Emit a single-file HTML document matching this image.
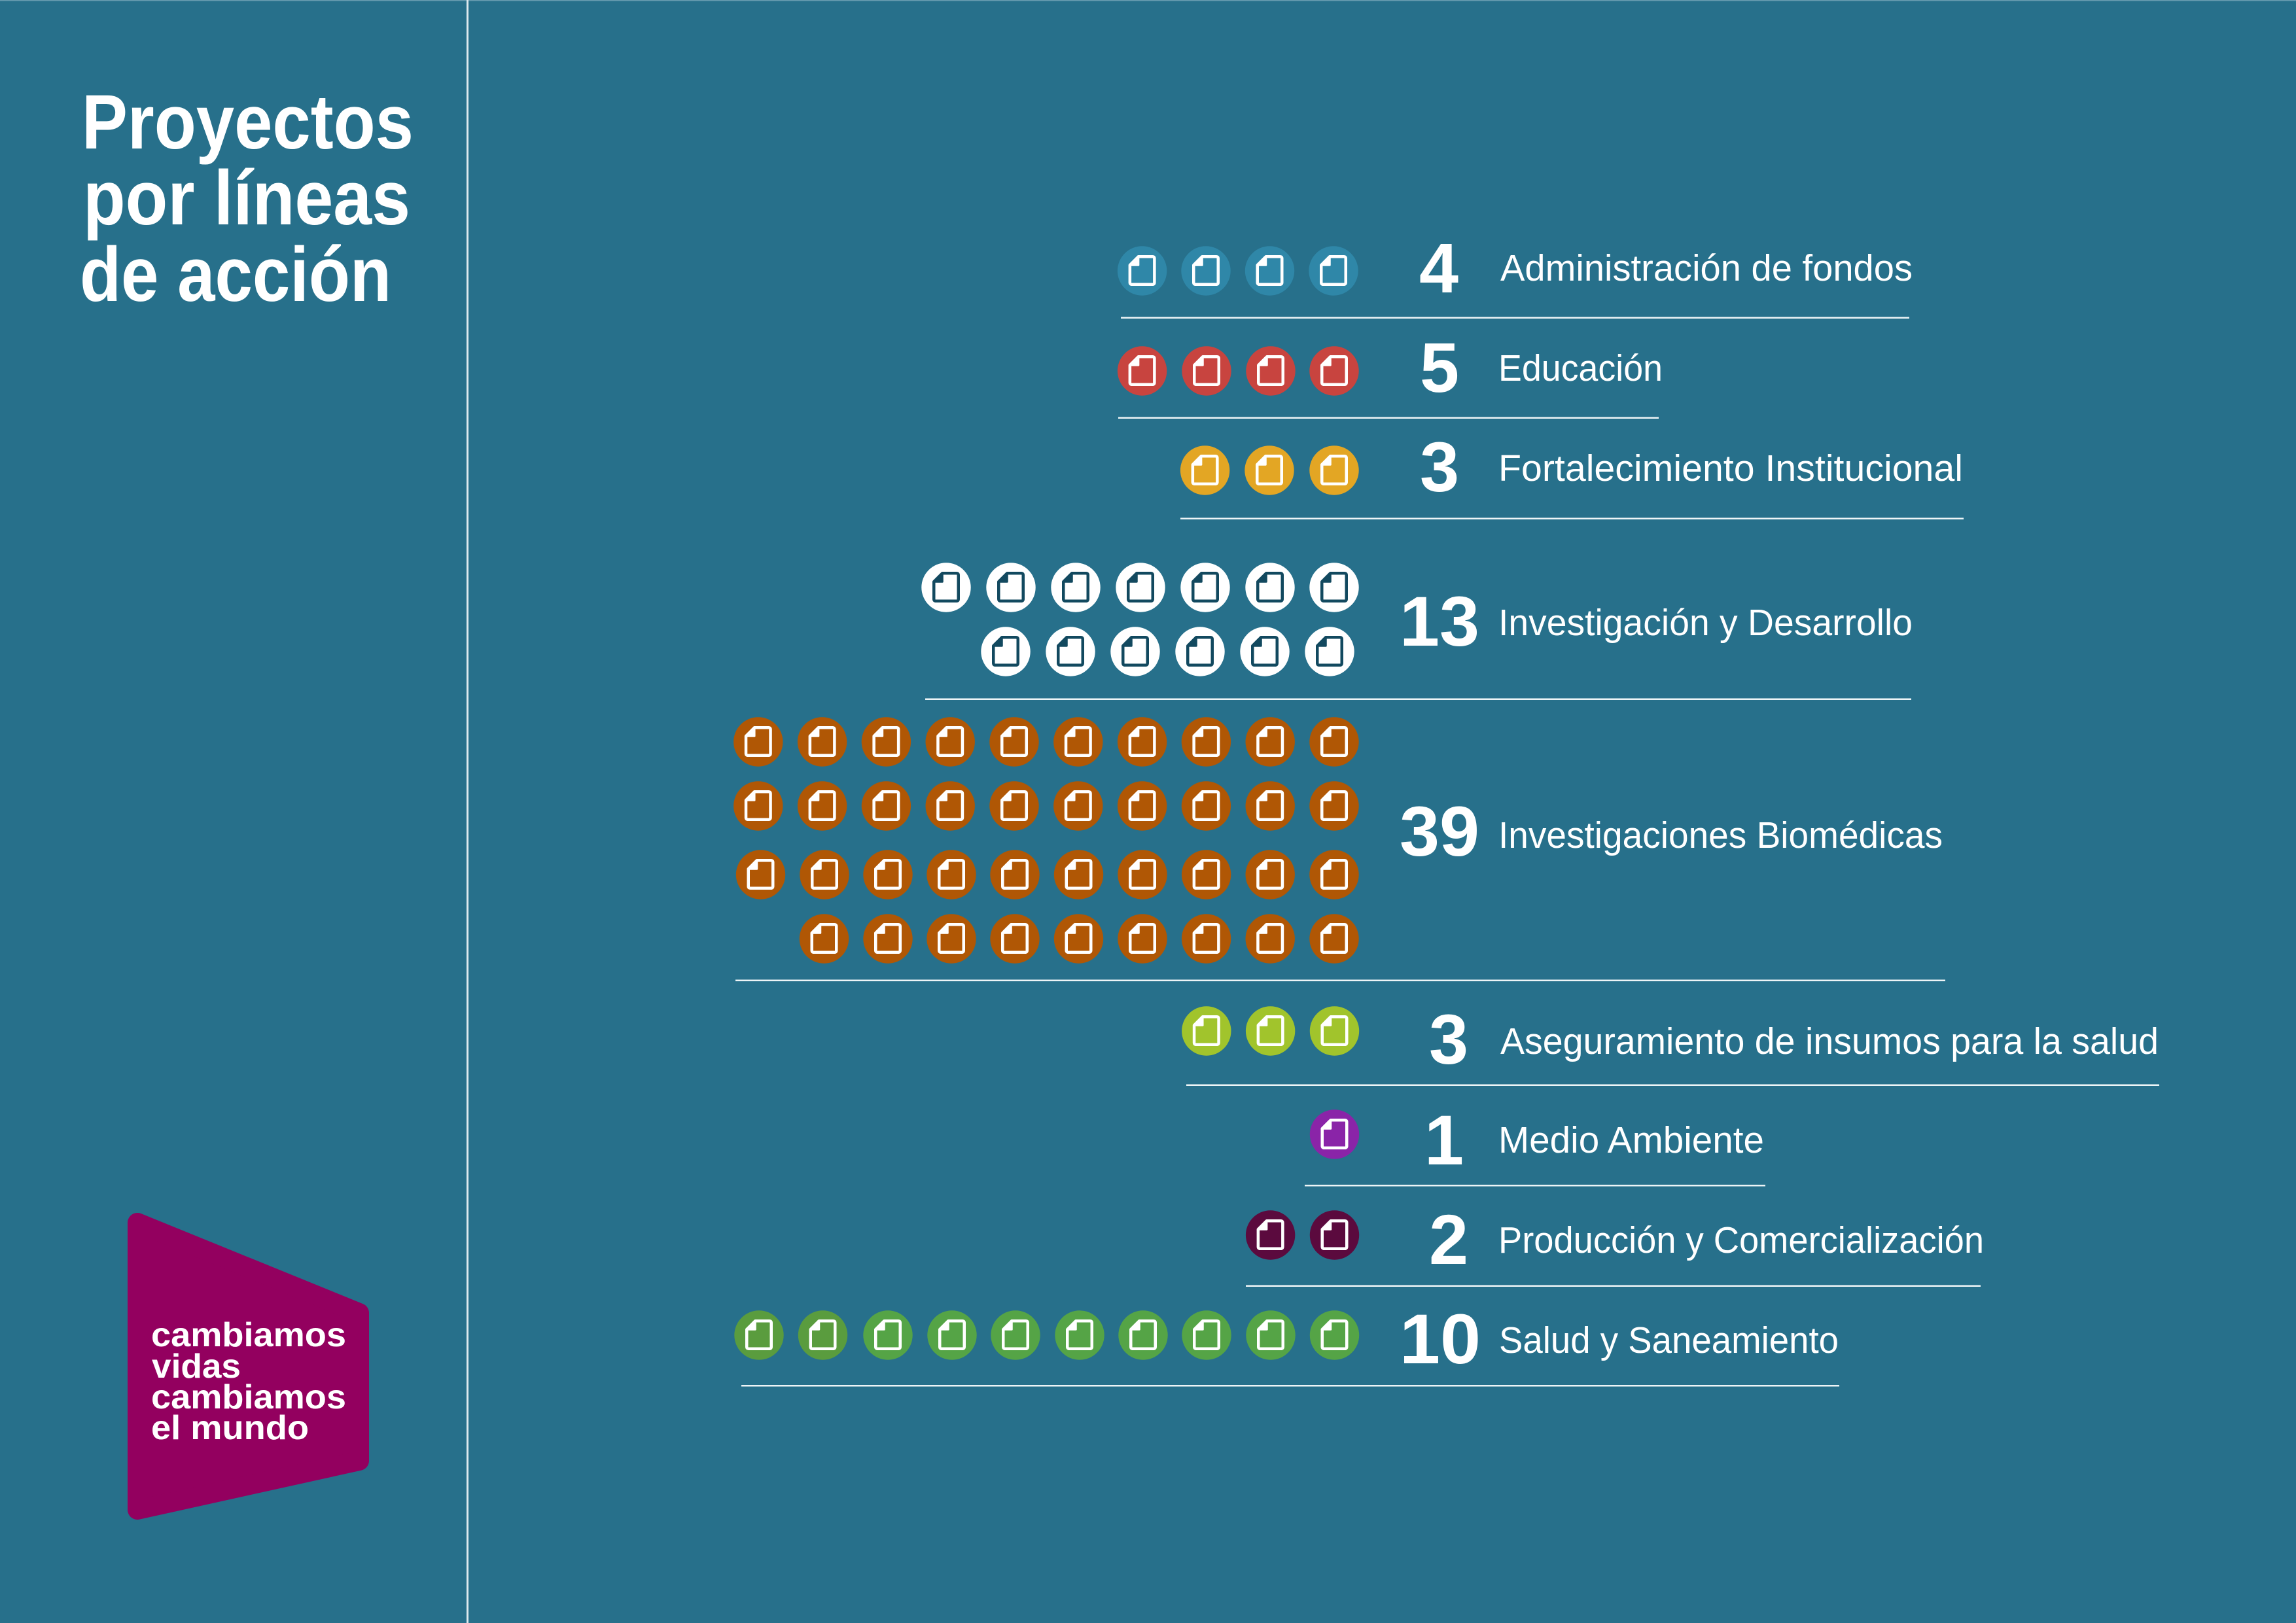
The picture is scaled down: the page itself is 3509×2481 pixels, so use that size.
<!DOCTYPE html>
<html>
<head>
<meta charset="utf-8">
<style>
html,body{margin:0;padding:0;background:#27708b;width:3509px;height:2481px;overflow:hidden;}
svg{display:block;}
text{font-family:"Liberation Sans",sans-serif;fill:#ffffff;}
.t{font-weight:bold;font-size:118px;}
.n{font-weight:bold;font-size:108px;}
.l{font-size:57px;}
.g{font-weight:bold;font-size:52px;}
</style>
</head>
<body>
<svg width="3509" height="2481" viewBox="0 0 3509 2481" xmlns="http://www.w3.org/2000/svg">
<defs>
  <g id="dw">
    <path d="M-5.75,-21.75 L15.75,-21.75 Q18.75,-21.75 18.75,-18.75 L18.75,17.75 Q18.75,20.75 15.75,20.75 L-15.75,20.75 Q-18.75,20.75 -18.75,17.75 L-18.75,-8.75 Z" fill="none" stroke="#ffffff" stroke-width="4.5" stroke-linejoin="round"/>
    <polygon points="-18.75,-8.75 -5.75,-21.75 -5.75,-8.75" fill="#ffffff" stroke="#ffffff" stroke-width="3" stroke-linejoin="round"/>
  </g>
  <g id="dd">
    <path d="M-5.75,-21.75 L15.75,-21.75 Q18.75,-21.75 18.75,-18.75 L18.75,17.75 Q18.75,20.75 15.75,20.75 L-15.75,20.75 Q-18.75,20.75 -18.75,17.75 L-18.75,-8.75 Z" fill="#ffffff" stroke="#12495f" stroke-width="4.5" stroke-linejoin="round"/>
    <polygon points="-18.75,-8.75 -5.75,-21.75 -5.75,-8.75" fill="#12495f" stroke="#12495f" stroke-width="3" stroke-linejoin="round"/>
  </g>
</defs>

<rect x="0" y="0" width="3509" height="2481" fill="#27708b"/>
<rect x="0" y="0" width="3509" height="1.5" fill="#6a9db1"/>
<rect x="713" y="0" width="3" height="2481" fill="#dce9ee"/>

<!-- Title -->
<text class="t" x="125" y="227" textLength="507" lengthAdjust="spacingAndGlyphs">Proyectos</text>
<text class="t" x="127" y="343" textLength="500" lengthAdjust="spacingAndGlyphs">por líneas</text>
<text class="t" x="122" y="460" textLength="476" lengthAdjust="spacingAndGlyphs">de acción</text>

<!-- Logo -->
<polygon points="210,1869 549,2007 549,2233 210,2308" fill="#93005f" stroke="#93005f" stroke-width="30" stroke-linejoin="round"/>
<text class="g" x="231" y="2058" textLength="298" lengthAdjust="spacingAndGlyphs">cambiamos</text>
<text class="g" x="232" y="2106" textLength="136" lengthAdjust="spacingAndGlyphs">vidas</text>
<text class="g" x="231" y="2153" textLength="298" lengthAdjust="spacingAndGlyphs">cambiamos</text>
<text class="g" x="231" y="2200" textLength="241" lengthAdjust="spacingAndGlyphs">el mundo</text>

<!-- Separator lines -->
<g fill="#eef5f7">
  <rect x="1713" y="484.5" width="1205" height="2.5"/>
  <rect x="1709" y="637.5" width="826" height="2.5"/>
  <rect x="1804" y="791.5" width="1197" height="2.5"/>
  <rect x="1414" y="1067.5" width="1507" height="2.5"/>
  <rect x="1124" y="1497.5" width="1849" height="2.5"/>
  <rect x="1813" y="1657.5" width="1487" height="2.5"/>
  <rect x="1994" y="1811" width="704" height="2.5"/>
  <rect x="1904" y="1964.5" width="1123" height="2.5"/>
  <rect x="1133" y="2117" width="1678" height="2.5"/>
</g>

<!-- Numbers -->
<text class="n" x="2199" y="447" text-anchor="middle">4</text>
<text class="n" x="2200" y="599" text-anchor="middle">5</text>
<text class="n" x="2200" y="751" text-anchor="middle">3</text>
<text class="n" x="2200" y="987" text-anchor="middle" textLength="122" lengthAdjust="spacingAndGlyphs">13</text>
<text class="n" x="2200" y="1308" text-anchor="middle" textLength="122" lengthAdjust="spacingAndGlyphs">39</text>
<text class="n" x="2214" y="1626" text-anchor="middle">3</text>
<text class="n" x="2207" y="1780" text-anchor="middle">1</text>
<text class="n" x="2214" y="1932" text-anchor="middle">2</text>
<text class="n" x="2201" y="2084" text-anchor="middle" textLength="124" lengthAdjust="spacingAndGlyphs">10</text>

<!-- Labels -->
<text class="l" x="2293" y="429" textLength="630" lengthAdjust="spacingAndGlyphs">Administración de fondos</text>
<text class="l" x="2290" y="582" textLength="251" lengthAdjust="spacingAndGlyphs">Educación</text>
<text class="l" x="2290" y="735" textLength="710" lengthAdjust="spacingAndGlyphs">Fortalecimiento Institucional</text>
<text class="l" x="2290" y="971" textLength="633" lengthAdjust="spacingAndGlyphs">Investigación y Desarrollo</text>
<text class="l" x="2290" y="1296" textLength="679" lengthAdjust="spacingAndGlyphs">Investigaciones Biomédicas</text>
<text class="l" x="2293" y="1611" textLength="1006" lengthAdjust="spacingAndGlyphs">Aseguramiento de insumos para la salud</text>
<text class="l" x="2290" y="1762" textLength="406" lengthAdjust="spacingAndGlyphs">Medio Ambiente</text>
<text class="l" x="2290" y="1915" textLength="742" lengthAdjust="spacingAndGlyphs">Producción y Comercialización</text>
<text class="l" x="2291" y="2068" textLength="519" lengthAdjust="spacingAndGlyphs">Salud y Saneamiento</text>

<!-- Row 1: blue -->
<g fill="#2f87a8">
  <circle cx="1745.6" cy="414" r="37.7"/><circle cx="1843" cy="414" r="37.7"/><circle cx="1940.5" cy="414" r="37.7"/><circle cx="2038" cy="414" r="37.7"/>
</g>
<use href="#dw" x="1745.6" y="414"/><use href="#dw" x="1843" y="414"/><use href="#dw" x="1940.5" y="414"/><use href="#dw" x="2038" y="414"/>

<!-- Row 2: red -->
<g fill="#c8443f">
  <circle cx="1745.6" cy="567" r="37.7"/><circle cx="1844" cy="567" r="37.7"/><circle cx="1942" cy="567" r="37.7"/><circle cx="2039" cy="567" r="37.7"/>
</g>
<use href="#dw" x="1745.6" y="567"/><use href="#dw" x="1844" y="567"/><use href="#dw" x="1942" y="567"/><use href="#dw" x="2039" y="567"/>

<!-- Row 3: yellow -->
<g fill="#e3a624">
  <circle cx="1841.6" cy="719" r="37.7"/><circle cx="1940" cy="719" r="37.7"/><circle cx="2039" cy="719" r="37.7"/>
</g>
<use href="#dw" x="1841.6" y="719"/><use href="#dw" x="1940" y="719"/><use href="#dw" x="2039" y="719"/>

<!-- Row 4: white -->
<g fill="#ffffff">
  <circle cx="1446" cy="898" r="37.7"/><circle cx="1545" cy="898" r="37.7"/><circle cx="1644" cy="898" r="37.7"/><circle cx="1743" cy="898" r="37.7"/><circle cx="1842" cy="898" r="37.7"/><circle cx="1941" cy="898" r="37.7"/><circle cx="2039" cy="898" r="37.7"/>
  <circle cx="1537" cy="996" r="37.7"/><circle cx="1636" cy="996" r="37.7"/><circle cx="1735" cy="996" r="37.7"/><circle cx="1834" cy="996" r="37.7"/><circle cx="1933" cy="996" r="37.7"/><circle cx="2032" cy="996" r="37.7"/>
</g>
<use href="#dd" x="1446" y="898"/><use href="#dd" x="1545" y="898"/><use href="#dd" x="1644" y="898"/><use href="#dd" x="1743" y="898"/><use href="#dd" x="1842" y="898"/><use href="#dd" x="1941" y="898"/><use href="#dd" x="2039" y="898"/>
<use href="#dd" x="1537" y="996"/><use href="#dd" x="1636" y="996"/><use href="#dd" x="1735" y="996"/><use href="#dd" x="1834" y="996"/><use href="#dd" x="1933" y="996"/><use href="#dd" x="2032" y="996"/>

<!-- Row 5: orange -->
<g fill="#b05705">
  <circle cx="1158.8" cy="1134" r="37.7"/><circle cx="1256.6" cy="1134" r="37.7"/><circle cx="1354.4" cy="1134" r="37.7"/><circle cx="1452.2" cy="1134" r="37.7"/><circle cx="1550" cy="1134" r="37.7"/><circle cx="1647.8" cy="1134" r="37.7"/><circle cx="1745.6" cy="1134" r="37.7"/><circle cx="1843.4" cy="1134" r="37.7"/><circle cx="1941.2" cy="1134" r="37.7"/><circle cx="2039" cy="1134" r="37.7"/>
  <circle cx="1158.8" cy="1232" r="37.7"/><circle cx="1256.6" cy="1232" r="37.7"/><circle cx="1354.4" cy="1232" r="37.7"/><circle cx="1452.2" cy="1232" r="37.7"/><circle cx="1550" cy="1232" r="37.7"/><circle cx="1647.8" cy="1232" r="37.7"/><circle cx="1745.6" cy="1232" r="37.7"/><circle cx="1843.4" cy="1232" r="37.7"/><circle cx="1941.2" cy="1232" r="37.7"/><circle cx="2039" cy="1232" r="37.7"/>
  <circle cx="1162.5" cy="1337" r="37.7"/><circle cx="1260" cy="1337" r="37.7"/><circle cx="1357" cy="1337" r="37.7"/><circle cx="1454" cy="1337" r="37.7"/><circle cx="1551" cy="1337" r="37.7"/><circle cx="1648.5" cy="1337" r="37.7"/><circle cx="1746" cy="1337" r="37.7"/><circle cx="1843.6" cy="1337" r="37.7"/><circle cx="1941.2" cy="1337" r="37.7"/><circle cx="2039" cy="1337" r="37.7"/>
  <circle cx="1259.5" cy="1435" r="37.7"/><circle cx="1357" cy="1435" r="37.7"/><circle cx="1454" cy="1435" r="37.7"/><circle cx="1551" cy="1435" r="37.7"/><circle cx="1648.5" cy="1435" r="37.7"/><circle cx="1746" cy="1435" r="37.7"/><circle cx="1843.6" cy="1435" r="37.7"/><circle cx="1941.2" cy="1435" r="37.7"/><circle cx="2039" cy="1435" r="37.7"/>
</g>
<use href="#dw" x="1158.8" y="1134"/><use href="#dw" x="1256.6" y="1134"/><use href="#dw" x="1354.4" y="1134"/><use href="#dw" x="1452.2" y="1134"/><use href="#dw" x="1550" y="1134"/><use href="#dw" x="1647.8" y="1134"/><use href="#dw" x="1745.6" y="1134"/><use href="#dw" x="1843.4" y="1134"/><use href="#dw" x="1941.2" y="1134"/><use href="#dw" x="2039" y="1134"/>
<use href="#dw" x="1158.8" y="1232"/><use href="#dw" x="1256.6" y="1232"/><use href="#dw" x="1354.4" y="1232"/><use href="#dw" x="1452.2" y="1232"/><use href="#dw" x="1550" y="1232"/><use href="#dw" x="1647.8" y="1232"/><use href="#dw" x="1745.6" y="1232"/><use href="#dw" x="1843.4" y="1232"/><use href="#dw" x="1941.2" y="1232"/><use href="#dw" x="2039" y="1232"/>
<use href="#dw" x="1162.5" y="1337"/><use href="#dw" x="1260" y="1337"/><use href="#dw" x="1357" y="1337"/><use href="#dw" x="1454" y="1337"/><use href="#dw" x="1551" y="1337"/><use href="#dw" x="1648.5" y="1337"/><use href="#dw" x="1746" y="1337"/><use href="#dw" x="1843.6" y="1337"/><use href="#dw" x="1941.2" y="1337"/><use href="#dw" x="2039" y="1337"/>
<use href="#dw" x="1259.5" y="1435"/><use href="#dw" x="1357" y="1435"/><use href="#dw" x="1454" y="1435"/><use href="#dw" x="1551" y="1435"/><use href="#dw" x="1648.5" y="1435"/><use href="#dw" x="1746" y="1435"/><use href="#dw" x="1843.6" y="1435"/><use href="#dw" x="1941.2" y="1435"/><use href="#dw" x="2039" y="1435"/>

<!-- Row 6: yellow-green -->
<g fill="#a1c42c">
  <circle cx="1843.8" cy="1576" r="37.7"/><circle cx="1941.6" cy="1576" r="37.7"/><circle cx="2039.5" cy="1576" r="37.7"/>
</g>
<use href="#dw" x="1843.8" y="1576"/><use href="#dw" x="1941.6" y="1576"/><use href="#dw" x="2039.5" y="1576"/>

<!-- Row 7: purple -->
<circle cx="2039.5" cy="1734" r="37.7" fill="#8a24a8"/>
<use href="#dw" x="2039.5" y="1734"/>

<!-- Row 8: dark purple -->
<g fill="#5b0a3e">
  <circle cx="1941.6" cy="1888" r="37.7"/><circle cx="2039.5" cy="1888" r="37.7"/>
</g>
<use href="#dw" x="1941.6" y="1888"/><use href="#dw" x="2039.5" y="1888"/>

<!-- Row 9: green -->
<g fill="#55a446">
  <circle cx="1160" cy="2041" r="37.7" fill="#5a9c3e"/><circle cx="1257.5" cy="2041" r="37.7" fill="#5a9c3e"/><circle cx="1357" cy="2041" r="37.7"/><circle cx="1455" cy="2041" r="37.7"/><circle cx="1552" cy="2041" r="37.7"/><circle cx="1650" cy="2041" r="37.7"/><circle cx="1747" cy="2041" r="37.7"/><circle cx="1844" cy="2041" r="37.7"/><circle cx="1942" cy="2041" r="37.7"/><circle cx="2039.5" cy="2041" r="37.7"/>
</g>
<use href="#dw" x="1160" y="2041"/><use href="#dw" x="1257.5" y="2041"/><use href="#dw" x="1357" y="2041"/><use href="#dw" x="1455" y="2041"/><use href="#dw" x="1552" y="2041"/><use href="#dw" x="1650" y="2041"/><use href="#dw" x="1747" y="2041"/><use href="#dw" x="1844" y="2041"/><use href="#dw" x="1942" y="2041"/><use href="#dw" x="2039.5" y="2041"/>
</svg>
</body>
</html>
